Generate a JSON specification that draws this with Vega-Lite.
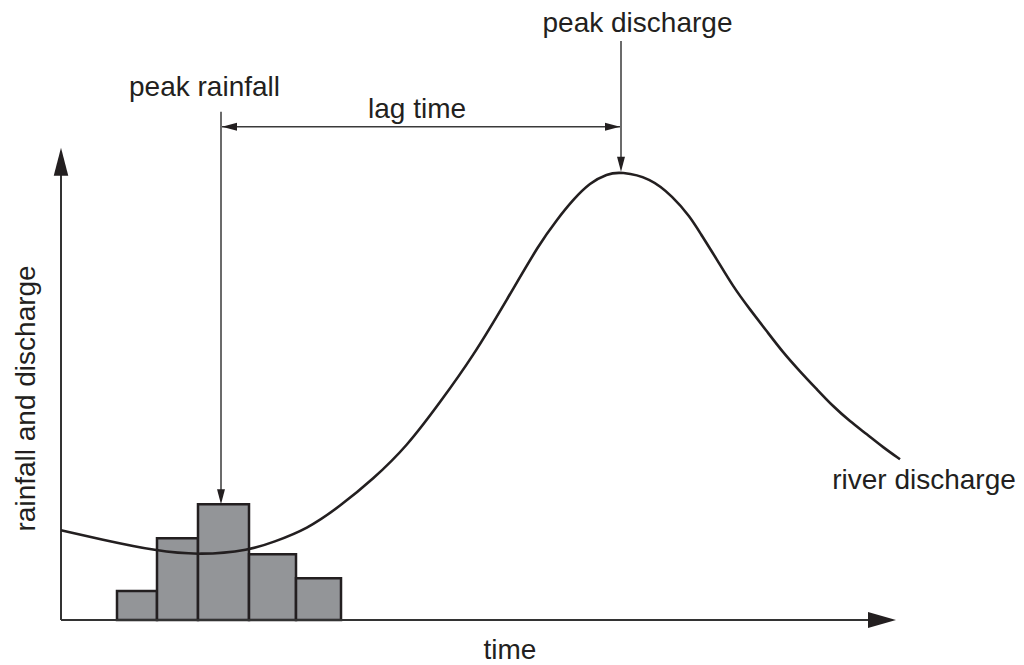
{
  "$schema": "https://vega.github.io/schema/vega-lite/v6.json",
  "width": 1024,
  "height": 665,
  "autosize": {"type": "fit", "contains": "padding"},
  "padding": 0,
  "background": "#ffffff",
  "config": {"view": {"stroke": null}},
  "datasets": {
    "curve": [
      {"t": 0, "q": 9.0}, {"t": 3.9, "q": 8.1}, {"t": 9.6, "q": 6.9}, {"t": 13.9, "q": 6.5},
      {"t": 18.9, "q": 7.0}, {"t": 21.2, "q": 7.8}, {"t": 24.6, "q": 9.1}, {"t": 27.9, "q": 11.4},
      {"t": 31.2, "q": 14.1}, {"t": 34.6, "q": 17.4}, {"t": 37.9, "q": 21.8}, {"t": 41.2, "q": 26.4},
      {"t": 44.6, "q": 32.1}, {"t": 47.9, "q": 37.8}, {"t": 49.6, "q": 40.1}, {"t": 51.2, "q": 42.1},
      {"t": 52.9, "q": 43.8}, {"t": 54.6, "q": 44.7}, {"t": 56.0, "q": 44.9}, {"t": 58.9, "q": 44.3},
      {"t": 61.2, "q": 42.4}, {"t": 62.9, "q": 40.4}, {"t": 63.9, "q": 38.8}, {"t": 65.6, "q": 36.1},
      {"t": 67.2, "q": 33.4}, {"t": 68.9, "q": 31.1}, {"t": 70.6, "q": 28.9}, {"t": 72.2, "q": 26.8},
      {"t": 73.9, "q": 24.9}, {"t": 75.6, "q": 23.1}, {"t": 77.2, "q": 21.4}, {"t": 78.9, "q": 19.9},
      {"t": 80.6, "q": 18.6}, {"t": 82.2, "q": 17.3}, {"t": 83.9, "q": 16.1}
    ],
    "rain": [
      {"start": 5.6, "end": 9.6, "rain": 2.9},
      {"start": 9.6, "end": 13.7, "rain": 8.2},
      {"start": 13.7, "end": 18.8, "rain": 11.6},
      {"start": 18.8, "end": 23.5, "rain": 6.6},
      {"start": 23.5, "end": 28.0, "rain": 4.2}
    ],
    "segments": [
      {"kind": "axis", "t1": 0, "v1": 0, "t2": 0, "v2": 44.6},
      {"kind": "axis", "t1": 0, "v1": 0, "t2": 80.8, "v2": 0},
      {"kind": "pointer", "t1": 16.0, "v1": 50.9, "t2": 16.0, "v2": 12.3},
      {"kind": "pointer", "t1": 16.1, "v1": 49.4, "t2": 55.9, "v2": 49.4},
      {"kind": "pointer", "t1": 56.0, "v1": 58.0, "t2": 56.0, "v2": 45.5}
    ],
    "heads": [
      {"kind": "axis", "t": 0, "v": 45.9, "dir": "up"},
      {"kind": "axis", "t": 82.1, "v": 0, "dir": "right"},
      {"kind": "pointer", "t": 16.0, "v": 12.35, "dir": "down"},
      {"kind": "pointer", "t": 16.85, "v": 49.4, "dir": "left"},
      {"kind": "pointer", "t": 55.15, "v": 49.4, "dir": "right"},
      {"kind": "pointer", "t": 56.0, "v": 45.65, "dir": "down"}
    ],
    "labels": [
      {"text": "peak rainfall", "t": 14.35, "v": 52.5},
      {"text": "lag time", "t": 35.6, "v": 50.3},
      {"text": "peak discharge", "t": 57.65, "v": 58.9},
      {"text": "river discharge", "t": 86.3, "v": 13.1},
      {"text": "time", "t": 44.9, "v": -3.9}
    ],
    "ylabel": [
      {"text": "rainfall and discharge", "t": -2.6, "v": 22.2}
    ]
  },
  "resolve": {"scale": {"x": "shared", "y": "shared"}},
  "layer": [
    {
      "data": {"name": "rain"},
      "mark": {"type": "rect", "fill": "#939598", "stroke": "#231f20", "strokeWidth": 2.5},
      "encoding": {
        "x": {"field": "start", "type": "quantitative", "scale": {"domain": [-6.1, 96.3], "nice": false, "zero": false}, "axis": null},
        "x2": {"field": "end"},
        "y": {"field": "rain", "type": "quantitative", "scale": {"domain": [-4.4, 62.1], "nice": false, "zero": false}, "axis": null},
        "y2": {"datum": 0}
      }
    },
    {
      "data": {"name": "segments"},
      "transform": [{"filter": "datum.kind === 'axis'"}],
      "mark": {"type": "rule", "color": "#333333", "strokeWidth": 2},
      "encoding": {
        "x": {"field": "t1", "type": "quantitative"},
        "x2": {"field": "t2"},
        "y": {"field": "v1", "type": "quantitative"},
        "y2": {"field": "v2"}
      }
    },
    {
      "data": {"name": "segments"},
      "transform": [{"filter": "datum.kind === 'pointer'"}],
      "mark": {"type": "rule", "color": "#3a3a3a", "strokeWidth": 1.5},
      "encoding": {
        "x": {"field": "t1", "type": "quantitative"},
        "x2": {"field": "t2"},
        "y": {"field": "v1", "type": "quantitative"},
        "y2": {"field": "v2"}
      }
    },
    {
      "data": {"name": "curve"},
      "mark": {"type": "line", "interpolate": "basis", "color": "#231f20", "strokeWidth": 2.6},
      "encoding": {
        "x": {"field": "t", "type": "quantitative"},
        "y": {"field": "q", "type": "quantitative"}
      }
    },
    {
      "data": {"name": "heads"},
      "transform": [{"filter": "datum.kind === 'axis' && datum.dir === 'up'"}],
      "mark": {"type": "point", "shape": "M0,-1L0.52,1L-0.52,1Z", "filled": true, "color": "#231f20", "opacity": 1, "size": 784, "angle": 0},
      "encoding": {
        "x": {"field": "t", "type": "quantitative"},
        "y": {"field": "v", "type": "quantitative"}
      }
    },
    {
      "data": {"name": "heads"},
      "transform": [{"filter": "datum.kind === 'axis' && datum.dir === 'right'"}],
      "mark": {"type": "point", "shape": "M0,-1L0.57,1L-0.57,1Z", "filled": true, "color": "#231f20", "opacity": 1, "size": 784, "angle": 90},
      "encoding": {
        "x": {"field": "t", "type": "quantitative"},
        "y": {"field": "v", "type": "quantitative"}
      }
    },
    {
      "data": {"name": "heads"},
      "transform": [{"filter": "datum.kind === 'pointer' && datum.dir === 'down'"}],
      "mark": {"type": "point", "shape": "M0,-1L0.53,1L-0.53,1Z", "filled": true, "color": "#231f20", "opacity": 1, "size": 225, "angle": 180},
      "encoding": {
        "x": {"field": "t", "type": "quantitative"},
        "y": {"field": "v", "type": "quantitative"}
      }
    },
    {
      "data": {"name": "heads"},
      "transform": [{"filter": "datum.kind === 'pointer' && datum.dir === 'left'"}],
      "mark": {"type": "point", "shape": "M0,-1L0.53,1L-0.53,1Z", "filled": true, "color": "#231f20", "opacity": 1, "size": 225, "angle": 270},
      "encoding": {
        "x": {"field": "t", "type": "quantitative"},
        "y": {"field": "v", "type": "quantitative"}
      }
    },
    {
      "data": {"name": "heads"},
      "transform": [{"filter": "datum.kind === 'pointer' && datum.dir === 'right'"}],
      "mark": {"type": "point", "shape": "M0,-1L0.53,1L-0.53,1Z", "filled": true, "color": "#231f20", "opacity": 1, "size": 225, "angle": 90},
      "encoding": {
        "x": {"field": "t", "type": "quantitative"},
        "y": {"field": "v", "type": "quantitative"}
      }
    },
    {
      "data": {"name": "labels"},
      "mark": {"type": "text", "font": "Liberation Sans", "fontSize": 28, "color": "#231f20", "align": "center", "baseline": "alphabetic"},
      "encoding": {
        "x": {"field": "t", "type": "quantitative"},
        "y": {"field": "v", "type": "quantitative"},
        "text": {"field": "text"}
      }
    },
    {
      "data": {"name": "ylabel"},
      "mark": {"type": "text", "font": "Liberation Sans", "fontSize": 28, "color": "#231f20", "align": "center", "baseline": "alphabetic", "angle": 270},
      "encoding": {
        "x": {"field": "t", "type": "quantitative"},
        "y": {"field": "v", "type": "quantitative"},
        "text": {"field": "text"}
      }
    }
  ]
}
